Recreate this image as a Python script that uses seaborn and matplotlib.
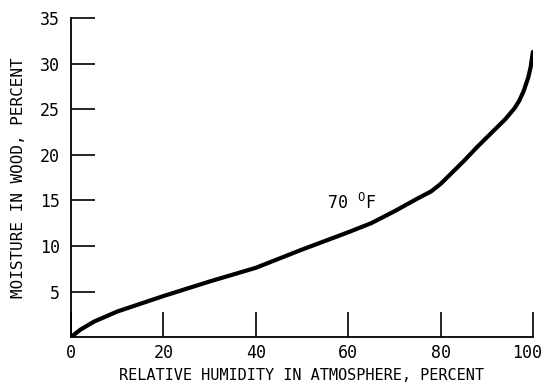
import matplotlib
matplotlib.use("Agg")
import matplotlib.pyplot as plt
import matplotlib.transforms as mtransforms
import seaborn as sns
import pandas as pd

# Equilibrium moisture content of wood at 70 °F
humidity = [0, 2, 5, 10, 20, 30, 40, 50, 60, 65, 70, 75, 78, 80, 82, 85, 88, 90, 92, 94, 96, 97, 98, 99, 99.5, 100]
moisture = [0, 0.8, 1.7, 2.8, 4.5, 6.1, 7.6, 9.6, 11.5, 12.5, 13.8, 15.2, 16.0, 16.8, 17.8, 19.3, 20.9, 21.9, 22.9, 23.9, 25.1, 25.9, 27.0, 28.5, 29.6, 31.3]

x_ticks = [0, 20, 40, 60, 80, 100]
y_ticks = [5, 10, 15, 20, 25, 30, 35]

df = pd.DataFrame({"rh": humidity, "mc": moisture})

sns.set_style("ticks")
plt.rcParams["font.family"] = ["DejaVu Sans Mono", "DejaVu Sans"]
plt.rcParams["text.color"] = "black"
plt.rcParams["axes.labelcolor"] = "black"
plt.rcParams["xtick.color"] = "black"
plt.rcParams["ytick.color"] = "black"

fig = plt.figure(figsize=(5.46, 3.87), dpi=100)
ax = fig.add_axes([0.130, 0.129, 0.846, 0.824])

sns.lineplot(data=df, x="rh", y="mc", ax=ax, color="black", linewidth=3.0)

ax.set_xlim(0, 100)
ax.set_ylim(0, 35)
ax.set_xticks(x_ticks)
ax.set_yticks(y_ticks)
ax.set_xticklabels([str(v) for v in x_ticks], fontsize=12)
ax.set_yticklabels([str(v) for v in y_ticks], fontsize=12)

ax.tick_params(axis="x", direction="in", length=18, width=1.2, pad=5)
ax.tick_params(axis="y", direction="in", length=17, width=1.2, pad=8)

# nudge the last x label so it stays inside the figure edge
last = ax.get_xticklabels()[-1]
last.set_transform(last.get_transform() + mtransforms.ScaledTranslation(-4 / 72, 0, fig.dpi_scale_trans))

for side in ("top", "right"):
    ax.spines[side].set_visible(False)
for side in ("left", "bottom"):
    ax.spines[side].set_linewidth(1.3)
    ax.spines[side].set_color("black")

ax.set_xlabel("RELATIVE HUMIDITY IN ATMOSPHERE, PERCENT", fontsize=11, labelpad=4)
ax.set_ylabel("MOISTURE IN WOOD, PERCENT", fontsize=11.5, labelpad=10)

ax.text(55.5, 14.1, "70 $^{0}$F", fontsize=12, ha="left", va="baseline")

fig.savefig("out.png", dpi=100, facecolor="white")
